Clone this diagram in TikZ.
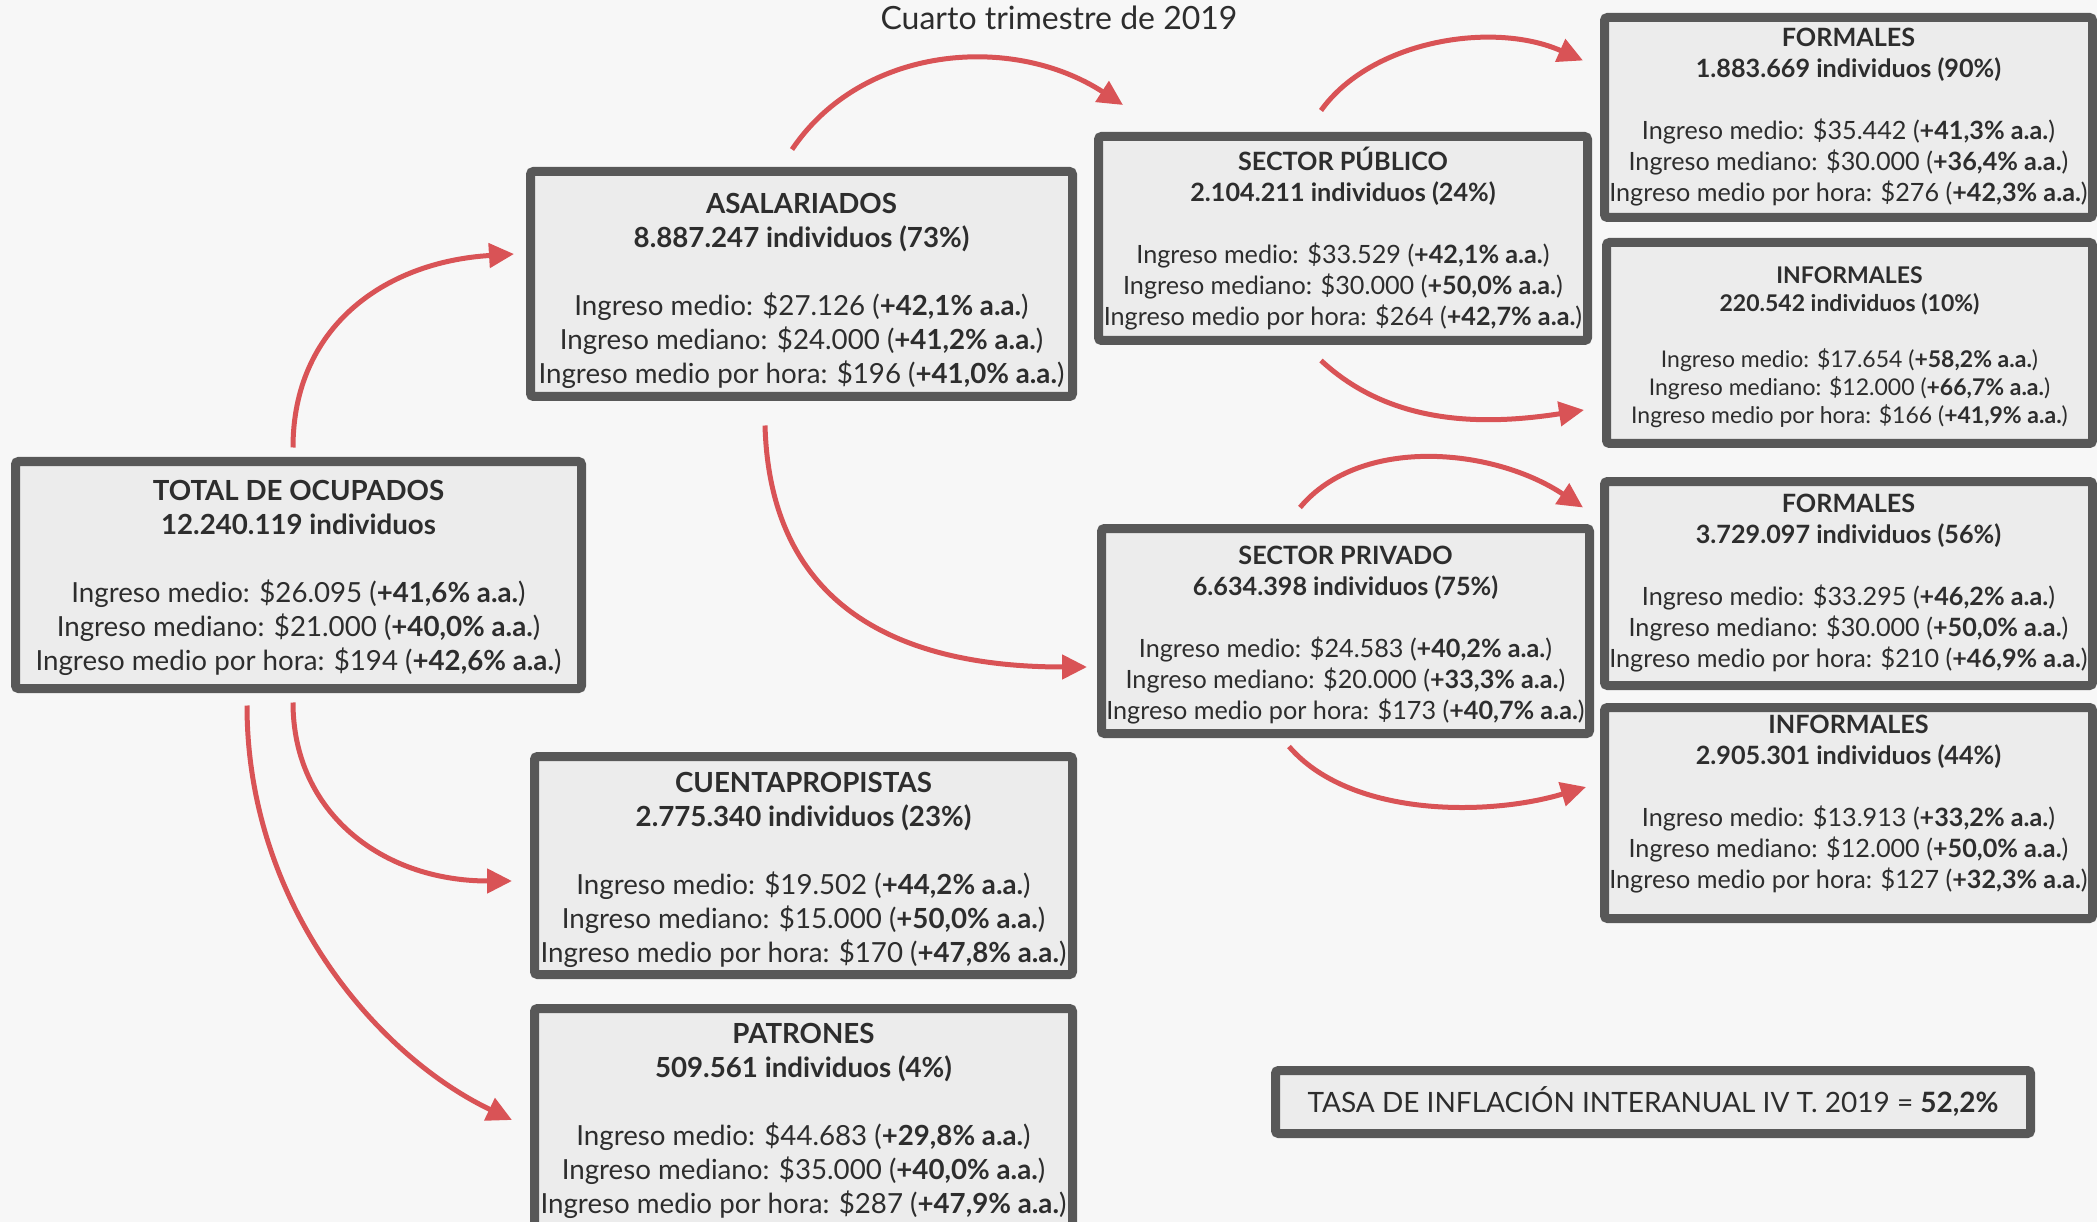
\documentclass[tikz,border=0pt]{standalone}
\usepackage{fontspec}
\setmainfont{Lato}
\usetikzlibrary{arrows.meta}
\definecolor{arrowred}{RGB}{217,83,86}
\definecolor{boxline}{RGB}{88,88,88}
\definecolor{boxfill}{RGB}{236,236,236}
\definecolor{txt}{RGB}{45,45,45}
\definecolor{bgcol}{RGB}{247,247,247}
\newcommand{\statbox}[9]{\textbf{#1}\\\textbf{#2}\\[#9]Ingreso medio: \$#3 (\textbf{#4 a.a.})\\Ingreso mediano: \$#5 (\textbf{#6 a.a.})\\Ingreso medio por hora: \$#7 (\textbf{#8 a.a.})}
\begin{document}
\begin{tikzpicture}[x=1pt,y=-1pt,
 box/.style={draw=boxline, line width=9pt, fill=boxfill, rounded corners=3pt, inner sep=0pt, align=center, text=txt},
 bigbox/.style={box, font=\fontsize{27.7}{34}\selectfont},
 midbox/.style={box, font=\fontsize{25.2}{31}\selectfont},
 smallbox/.style={box, font=\fontsize{23}{28}\selectfont},
 flow/.style={draw=arrowred, line width=5pt, -{Triangle[length=25pt,width=24pt]}},
]
\useasboundingbox (0,0) rectangle (2097,1222);
\fill[bgcol] (0,0) rectangle (2097,1222);

\node[font=\fontsize{32}{36}\selectfont, text=txt, anchor=base] (title) at (1059,30) {Cuarto trimestre de 2019};

\node[bigbox, minimum width=566pt, minimum height=227pt] (total) at (298.5,575)
 {\mbox{}\\[-8pt]\textbf{TOTAL DE OCUPADOS}\\\textbf{12.240.119 individuos}\\[34pt]Ingreso medio: \$26.095 (\textbf{+41,6\% a.a.})\\Ingreso mediano: \$21.000 (\textbf{+40,0\% a.a.})\\Ingreso medio por hora: \$194 (\textbf{+42,6\% a.a.})};
\node[bigbox, minimum width=542pt, minimum height=225pt] (asal) at (801.5,284)
 {\mbox{}\\[0pt]\statbox{ASALARIADOS}{8.887.247 individuos (73\%)}{27.126}{+42,1\%}{24.000}{+41,2\%}{196}{+41,0\%}{34pt}};
\node[bigbox, minimum width=538pt, minimum height=218pt] (cuenta) at (803.5,865.5)
 {\mbox{}\\[-4pt]\statbox{CUENTAPROPISTAS}{2.775.340 individuos (23\%)}{19.502}{+44,2\%}{15.000}{+50,0\%}{170}{+47,8\%}{34pt}};
\node[bigbox, minimum width=538pt, minimum height=219pt] (patr) at (803.5,1118)
 {\mbox{}\\[-8pt]\statbox{PATRONES}{509.561 individuos (4\%)}{44.683}{+29,8\%}{35.000}{+40,0\%}{287}{+47,9\%}{34pt}};

\node[midbox, minimum width=489pt, minimum height=204pt] (spub) at (1343,238.5)
 {\statbox{SECTOR PÚBLICO}{2.104.211 individuos (24\%)}{33.529}{+42,1\%}{30.000}{+50,0\%}{264}{+42,7\%}{31pt}};
\node[midbox, minimum width=488pt, minimum height=205pt] (spriv) at (1345.5,631)
 {\mbox{}\\[-5pt]\statbox{SECTOR PRIVADO}{6.634.398 individuos (75\%)}{24.583}{+40,2\%}{20.000}{+33,3\%}{173}{+40,7\%}{31pt}};

\node[midbox, minimum width=488pt, minimum height=200pt] (form1) at (1848.5,117.5)
 {\statbox{FORMALES}{1.883.669 individuos (90\%)}{35.442}{+41,3\%}{30.000}{+36,4\%}{276}{+42,3\%}{31pt}};
\node[smallbox, minimum width=486pt, minimum height=201pt] (inf1) at (1849.5,343)
 {\mbox{}\\[-3pt]\statbox{INFORMALES}{220.542 individuos (10\%)}{17.654}{+58,2\%}{12.000}{+66,7\%}{166}{+41,9\%}{28pt}};
\node[midbox, minimum width=488pt, minimum height=204pt] (form2) at (1848.5,583.5)
 {\statbox{FORMALES}{3.729.097 individuos (56\%)}{33.295}{+46,2\%}{30.000}{+50,0\%}{210}{+46,9\%}{31pt}};
\node[midbox, minimum width=488pt, minimum height=211pt] (inf2) at (1848.5,813)
 {\statbox{INFORMALES}{2.905.301 individuos (44\%)}{13.913}{+33,2\%}{12.000}{+50,0\%}{127}{+32,3\%}{31pt}\\[-8pt]\mbox{}};

\node[box, font=\fontsize{28}{32}\selectfont, minimum width=755pt, minimum height=63pt] (tasa) at (1653,1102)
 {TASA DE INFLACIÓN INTERANUAL IV T. 2019 = \textbf{52,2\%}};

% connectors
\draw[flow] ([xshift=-5.5pt,yshift=9.5pt]total.north) .. controls +(0,-120) and +(-130,8) .. ([xshift=-12pt,yshift=30pt]asal.west);
\draw[flow] ([xshift=-5.5pt,yshift=-9.5pt]total.south) .. controls +(0,110) and +(-130,0) .. ([xshift=-18pt,yshift=-15.5pt]cuenta.west);
\draw[flow] ([xshift=-51.5pt,yshift=-12.5pt]total.south) .. controls +(0,200) and +(-134,-64) .. ([xshift=-18pt,yshift=-2pt]patr.west);
\draw[flow] ([xshift=-9.5pt,yshift=17.5pt]asal.north) .. controls +(70,-104) and +(-111,-72) .. ([xshift=29pt,yshift=27pt]spub.north west);
\draw[flow] ([xshift=-36.5pt,yshift=-24.5pt]asal.south) .. controls +(5,180) and +(-190,0) .. ([xshift=-10pt,yshift=-36pt]spriv.west);
\draw[flow] ([xshift=-22pt,yshift=21.5pt]spub.north) .. controls +(50,-70) and +(-90,-40) .. ([xshift=-17pt,yshift=57pt]form1.west);
\draw[flow] ([xshift=-22pt,yshift=-15.5pt]spub.south) .. controls +(69,64) and +(-103,16) .. ([xshift=-18pt,yshift=-67pt]inf1.west);
\draw[flow] ([xshift=-45.5pt,yshift=16.5pt]spriv.north) .. controls +(60,-72) and +(-90,-60) .. ([xshift=-17pt,yshift=76pt]form2.west);
\draw[flow] ([xshift=-56.5pt,yshift=-8.5pt]spriv.south) .. controls +(60,70) and +(-100,30) .. ([xshift=-14pt,yshift=26pt]inf2.west);
\end{tikzpicture}
\end{document}
